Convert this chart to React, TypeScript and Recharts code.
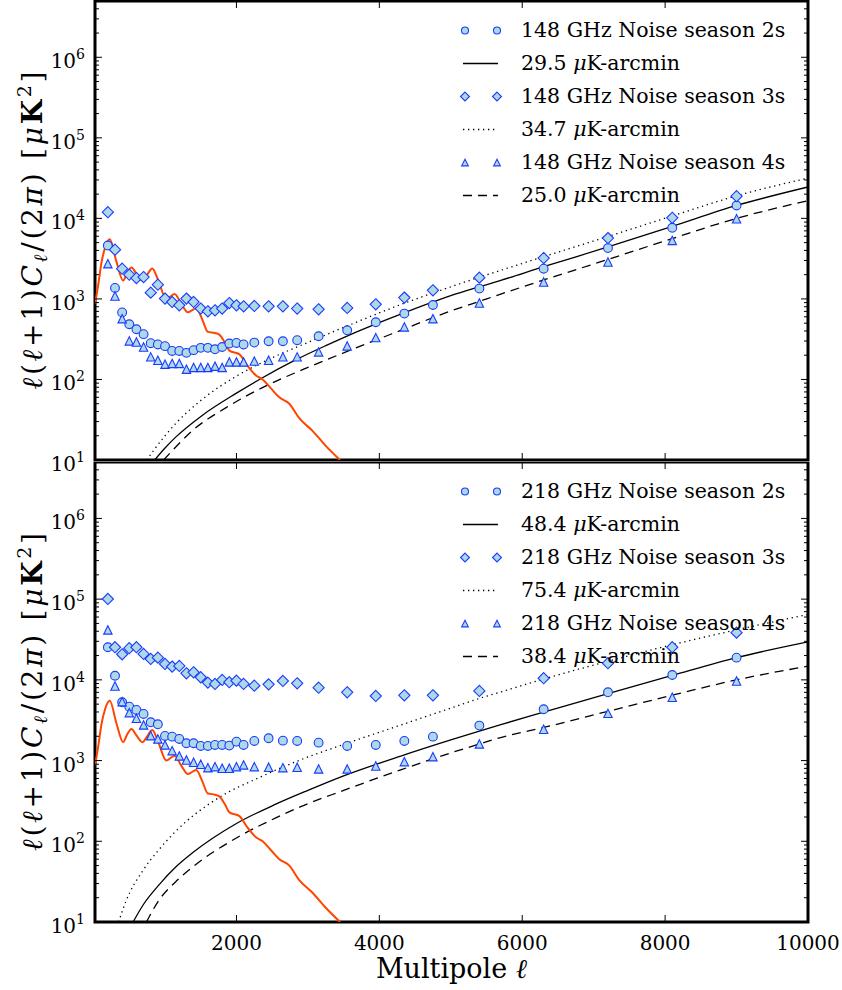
import type { ReactNode } from 'react'
import { ComposedChart, Line, XAxis, YAxis, Legend, Label, ReferenceArea } from 'recharts'

// bin centres of the measured noise spectra
const ELL = [200, 300, 400, 500, 600, 700, 800, 900, 1000, 1100, 1200, 1300, 1400, 1500, 1600, 1700, 1800, 1900, 2000, 2100, 2250, 2450, 2650, 2850, 3150, 3550, 3950, 4350, 4750, 5400, 6300, 7200, 8100, 9000]

// 148 GHz noise, seasons 2/3/4
const N148_S2 = [4600, 1370, 680, 485, 420, 365, 282, 272, 259, 226, 226, 214, 231, 247, 247, 237, 253, 279, 284, 272, 287, 298, 298, 307, 344, 408, 513, 657, 841, 1343, 2372, 4275, 7640, 14450]
const N148_S3 = [11940, 4085, 2372, 2000, 1816, 1870, 1196, 1503, 1009, 916, 834, 1009, 916, 759, 702, 722, 759, 889, 834, 809, 817, 809, 809, 759, 743, 773, 857, 1038, 1279, 1837, 3215, 5690, 10170, 18840]
const N148_S4 = [2737, 1086, 568, 301, 292, 253, 191, 173, 155, 158, 158, 134, 141, 141, 141, 146, 141, 165, 165, 165, 169, 173, 191, 191, 220, 261, 331, 449, 568, 889, 1622, 2870, 5320, 9880]

// 218 GHz noise, seasons 2/3/4
const N218_S2 = [25350, 11240, 5270, 4650, 4240, 3780, 2980, 2815, 2018, 1978, 1853, 1638, 1638, 1518, 1518, 1561, 1561, 1532, 1716, 1561, 1749, 1889, 1766, 1749, 1668, 1518, 1561, 1749, 1978, 2710, 4320, 7010, 11480, 18850]
const N218_S3 = [100400, 25350, 20750, 24660, 25350, 20940, 18160, 18850, 15740, 14590, 14870, 12050, 12410, 10770, 9240, 8900, 9970, 9340, 9780, 8900, 8470, 8790, 9680, 9060, 7990, 7010, 6310, 6440, 6440, 7280, 10470, 16070, 25350, 38450]
const N218_S4 = [41500, 8390, 5370, 3925, 3345, 2763, 2033, 1853, 1561, 1326, 1140, 1017, 953, 899, 817, 841, 803, 803, 841, 884, 841, 827, 817, 827, 787, 787, 857, 970, 1117, 1607, 2444, 3845, 6080, 9680]

// white-noise curves [ell, value]
const W148_295: [number, number][] = [[855, 10], [1000, 14.1], [1157, 19.5], [1530, 36.3], [2000, 67.6], [2321, 100], [2800, 170], [3250, 263], [3500, 331], [4300, 646], [5000, 1096], [5400, 1413], [5700, 1698], [6300, 2512], [7200, 4416], [8100, 7943], [9000, 14454], [10000, 24547]]
const W148_347: [number, number][] = [[745, 10], [850, 13.5], [1000, 20], [1157, 28.8], [1530, 57.5], [2000, 110], [2500, 186], [3000, 288], [3550, 462], [4300, 851], [5000, 1413], [5400, 1862], [5700, 2265], [6300, 3350], [7200, 5957], [8100, 10715], [9000, 19055], [10000, 31623]]
const W148_250: [number, number][] = [[980, 10], [1150, 14.5], [1390, 23.4], [1855, 44.7], [2413, 83.2], [2950, 135], [3500, 214], [4300, 407], [5000, 708], [5400, 933], [5700, 1148], [6300, 1718], [7200, 3090], [8100, 5623], [9000, 10000], [10000, 16596]]

const W218_484: [number, number][] = [[553, 10], [700, 16.6], [925, 29.5], [1150, 47.9], [1390, 72.4], [2000, 166], [2550, 288], [3000, 427], [3500, 646], [4300, 1135], [5000, 1799], [5400, 2317], [5700, 2786], [6300, 3981], [7200, 6761], [8100, 11350], [9000, 18836], [10000, 29512]]
const W218_754: [number, number][] = [[350, 10], [450, 17.8], [692, 43.6], [900, 75.9], [1157, 135], [1762, 351], [2321, 617], [2900, 1023], [3500, 1585], [4300, 2754], [5000, 4467], [5400, 5888], [5700, 7079], [6300, 10233], [7200, 16982], [8100, 27227], [9000, 41687], [10000, 64565]]
const W218_384: [number, number][] = [[740, 10], [900, 17.8], [1150, 31.6], [1400, 49], [2000, 110], [2550, 195], [2900, 269], [3500, 427], [4300, 767], [5000, 1245], [5400, 1603], [5700, 1928], [6300, 2570], [7200, 4074], [8100, 6457], [9000, 10000], [10000, 14791]]

// CMB temperature spectrum (orange)
const CMB: [number, number][] = [[20, 880], [32, 1000], [70, 1600], [110, 2800], [160, 4300], [227, 5500], [320, 2900], [413, 1690], [470, 2100], [530, 2460], [600, 2050], [683, 1690], [750, 2000], [822, 2390], [900, 1750], [1018, 1000], [1134, 1150], [1230, 860], [1320, 682], [1437, 765], [1520, 560], [1600, 390], [1700, 378], [1760, 360], [1840, 285], [1902, 228], [2042, 205], [2150, 150], [2274, 112], [2367, 100], [2480, 78], [2600, 60], [2740, 50], [2879, 33], [3065, 23], [3250, 15], [3450, 10]]

const X_TICKS = [2000, 4000, 6000, 8000, 10000]
const Y_MAJOR = [10, 100, 1000, 10000, 100000, 1000000]
const Y_EXP = ['1', '2', '3', '4', '5', '6']
const Y_TICKS = Y_MAJOR.flatMap((m) => [1, 2, 3, 4, 5, 6, 7, 8, 9].map((k) => k * m)).filter((v) => v <= 5e6)

const FONT = '"DejaVu Serif", serif'
const PLOT_W = 713
const FACE = '#add8e6'
const EDGE = '#1a3aff'
const CMB_COLOR = '#ff4500'
const DOTTED = '1.3 3.7'
const DASHED = '9 6'

type Kind = 'circle' | 'diamond' | 'triangle'

function Marker({ kind, cx, cy, s = 1 }: { kind: Kind; cx: number; cy: number; s?: number }) {
  if (kind === 'circle') return <circle cx={cx} cy={cy} r={4.4 * s} fill={FACE} stroke={EDGE} strokeWidth={1.1} />
  if (kind === 'diamond') {
    const d = 5.6 * s
    return <polygon points={`${cx},${cy - d} ${cx + d},${cy} ${cx},${cy + d} ${cx - d},${cy}`} fill={FACE} stroke={EDGE} strokeWidth={1.1} />
  }
  const h = 4.2 * s
  return <polygon points={`${cx},${cy - h} ${cx + h},${cy + h} ${cx - h},${cy + h}`} fill={FACE} stroke={EDGE} strokeWidth={1.1} />
}

const pts = (ys: number[]) => ELL.map((x, i) => ({ x, y: ys[i] }))
const curve = (c: [number, number][]) => c.map(([x, y]) => ({ x, y }))

type Row = { kind: Kind | 'solid' | 'dot' | 'dash'; text: ReactNode }

function LegendBox({ rows }: { rows: Row[] }) {
  return (
    <div style={{ fontFamily: FONT, fontSize: 20.5, color: '#000' }}>
      {rows.map((r, i) => (
        <div key={i} style={{ display: 'flex', alignItems: 'center', height: 33 }}>
          <svg width={66} height={33} style={{ display: 'block', flex: 'none' }}>
            {r.kind === 'solid' || r.kind === 'dot' || r.kind === 'dash' ? (
              <line
                x1={8}
                x2={43}
                y1={16.5}
                y2={16.5}
                stroke="#000"
                strokeWidth={1.3}
                strokeDasharray={r.kind === 'dot' ? DOTTED : r.kind === 'dash' ? DASHED : undefined}
              />
            ) : (
              <>
                <Marker kind={r.kind} cx={10} cy={16.5} s={0.8} />
                <Marker kind={r.kind} cx={42} cy={16.5} s={0.8} />
              </>
            )}
          </svg>
          <span style={{ whiteSpace: 'nowrap', lineHeight: '33px' }}>{r.text}</span>
        </div>
      ))}
    </div>
  )
}

const level = (v: string) => (
  <>
    {v} <i>μ</i>K-arcmin
  </>
)

function YLabel(props: any) {
  const vb = props.viewBox
  const cx = vb.x + vb.width - 62
  const cy = vb.y + vb.height / 2
  return (
    <text
      x={cx}
      y={cy + 9}
      transform={`rotate(-90 ${cx} ${cy})`}
      textAnchor="middle"
      fontFamily={FONT}
      fontSize={28}
      textLength={318}
      lengthAdjust="spacing"
    >
      <tspan fontStyle="italic">ℓ</tspan>(<tspan fontStyle="italic">ℓ</tspan>+1)<tspan fontStyle="italic">C</tspan>
      <tspan fontStyle="italic" fontSize={19} dy={5}>ℓ</tspan>
      <tspan dy={-5}>/(2</tspan>
      <tspan fontStyle="italic">π</tspan>) [<tspan fontStyle="italic">μ</tspan>
      <tspan fontWeight="bold">K</tspan>
      <tspan fontSize={19} dy={-11}>2</tspan>
      <tspan dy={11}>]</tspan>
    </text>
  )
}

function XLabel(props: any) {
  const vb = props.viewBox
  return (
    <text x={vb.x + vb.width / 2} y={vb.y + 56} textAnchor="middle" fontFamily={FONT} fontSize={27}>
      Multipole <tspan fontStyle="italic">ℓ</tspan>
    </text>
  )
}

interface PanelProps {
  height: number
  marginTop: number
  plotH: number
  xAxisHeight: number
  showXLabels: boolean
  s2: number[]
  s3: number[]
  s4: number[]
  solid: [number, number][]
  dotted: [number, number][]
  dashed: [number, number][]
  rows: Row[]
  legendTop: number
}

function Panel(p: PanelProps) {
  const yTick = (t: any) => {
    const { x, y, payload } = t
    const idx = Y_MAJOR.indexOf(payload.value)
    const len = idx >= 0 ? 7 : 4
    return (
      <g>
        <line x1={x} x2={x + len} y1={y} y2={y} stroke="#000" strokeWidth={1} />
        <line x1={x + PLOT_W} x2={x + PLOT_W - len} y1={y} y2={y} stroke="#000" strokeWidth={1} />
        {idx >= 0 && (
          <text x={x - 10} y={y + 11} textAnchor="end" fontFamily={FONT} fontSize={20} fill="#000">
            10<tspan fontSize={14} dy={-9}>{Y_EXP[idx]}</tspan>
          </text>
        )}
      </g>
    )
  }
  const xTick = (t: any) => {
    const { x, y, payload } = t
    return (
      <g>
        <line x1={x} x2={x} y1={y} y2={y - 7} stroke="#000" strokeWidth={1} />
        <line x1={x} x2={x} y1={y - p.plotH} y2={y - p.plotH + 7} stroke="#000" strokeWidth={1} />
        {p.showXLabels && (
          <text x={x} y={y + 28} textAnchor="middle" fontFamily={FONT} fontSize={20} fill="#000">
            {payload.value}
          </text>
        )}
      </g>
    )
  }
  const dot = (kind: Kind) => (d: any) => <Marker key={`${kind}-${d.index}`} kind={kind} cx={d.cx} cy={d.cy} />

  return (
    <ComposedChart width={842} height={p.height} margin={{ top: p.marginTop, right: 34, bottom: 0, left: 0 }}>
      <XAxis
        type="number"
        dataKey="x"
        domain={[20, 10000]}
        allowDataOverflow
        ticks={X_TICKS}
        interval={0}
        tickSize={0}
        tickMargin={0}
        tickLine={false}
        axisLine={false}
        height={p.xAxisHeight}
        tick={xTick}
      >
        {p.showXLabels && <Label content={XLabel} />}
      </XAxis>
      <YAxis
        type="number"
        scale="log"
        domain={[10, 5e6]}
        allowDataOverflow
        ticks={Y_TICKS}
        interval={0}
        tickSize={0}
        tickMargin={0}
        tickLine={false}
        axisLine={false}
        width={95}
        tick={yTick}
      >
        <Label content={YLabel} />
      </YAxis>
      <ReferenceArea x1={20} x2={10000} y1={10} y2={5e6} fill="none" stroke="#000" strokeWidth={3} ifOverflow="visible" />

      <Line data={pts(p.s2)} dataKey="y" stroke="none" dot={dot('circle')} activeDot={false} isAnimationActive={false} />
      <Line data={pts(p.s3)} dataKey="y" stroke="none" dot={dot('diamond')} activeDot={false} isAnimationActive={false} />
      <Line data={pts(p.s4)} dataKey="y" stroke="none" dot={dot('triangle')} activeDot={false} isAnimationActive={false} />

      <Line data={curve(p.solid)} dataKey="y" type="monotone" stroke="#000" strokeWidth={1.3} dot={false} activeDot={false} isAnimationActive={false} />
      <Line data={curve(p.dotted)} dataKey="y" type="monotone" stroke="#000" strokeWidth={1.3} strokeDasharray={DOTTED} dot={false} activeDot={false} isAnimationActive={false} />
      <Line data={curve(p.dashed)} dataKey="y" type="monotone" stroke="#000" strokeWidth={1.3} strokeDasharray={DASHED} dot={false} activeDot={false} isAnimationActive={false} />

      <Line data={curve(CMB)} dataKey="y" type="monotone" stroke={CMB_COLOR} strokeWidth={2} dot={false} activeDot={false} isAnimationActive={false} />

      <Legend
        layout="vertical"
        align="center"
        verticalAlign="middle"
        wrapperStyle={{ left: 455, top: p.legendTop, width: 370 }}
        content={() => <LegendBox rows={p.rows} />}
      />
    </ComposedChart>
  )
}

const ROWS_148: Row[] = [
  { kind: 'circle', text: '148 GHz Noise season 2s' },
  { kind: 'solid', text: level('29.5') },
  { kind: 'diamond', text: '148 GHz Noise season 3s' },
  { kind: 'dot', text: level('34.7') },
  { kind: 'triangle', text: '148 GHz Noise season 4s' },
  { kind: 'dash', text: level('25.0') },
]

const ROWS_218: Row[] = [
  { kind: 'circle', text: '218 GHz Noise season 2s' },
  { kind: 'solid', text: level('48.4') },
  { kind: 'diamond', text: '218 GHz Noise season 3s' },
  { kind: 'dot', text: level('75.4') },
  { kind: 'triangle', text: '218 GHz Noise season 4s' },
  { kind: 'dash', text: level('38.4') },
]

export default function App() {
  return (
    <div style={{ position: 'absolute', left: 0, top: 0, width: 842, height: 990, background: '#fff', fontFamily: FONT }}>
      <div style={{ position: 'absolute', left: 0, top: 0 }}>
        <Panel
          height={480}
          marginTop={1}
          plotH={459}
          xAxisHeight={20}
          showXLabels={false}
          s2={N148_S2}
          s3={N148_S3}
          s4={N148_S4}
          solid={W148_295}
          dotted={W148_347}
          dashed={W148_250}
          rows={ROWS_148}
          legendTop={14}
        />
      </div>
      <div style={{ position: 'absolute', left: 0, top: 462 }}>
        <Panel
          height={528}
          marginTop={0}
          plotH={460}
          xAxisHeight={68}
          showXLabels={true}
          s2={N218_S2}
          s3={N218_S3}
          s4={N218_S4}
          solid={W218_484}
          dotted={W218_754}
          dashed={W218_384}
          rows={ROWS_218}
          legendTop={13}
        />
      </div>
    </div>
  )
}
